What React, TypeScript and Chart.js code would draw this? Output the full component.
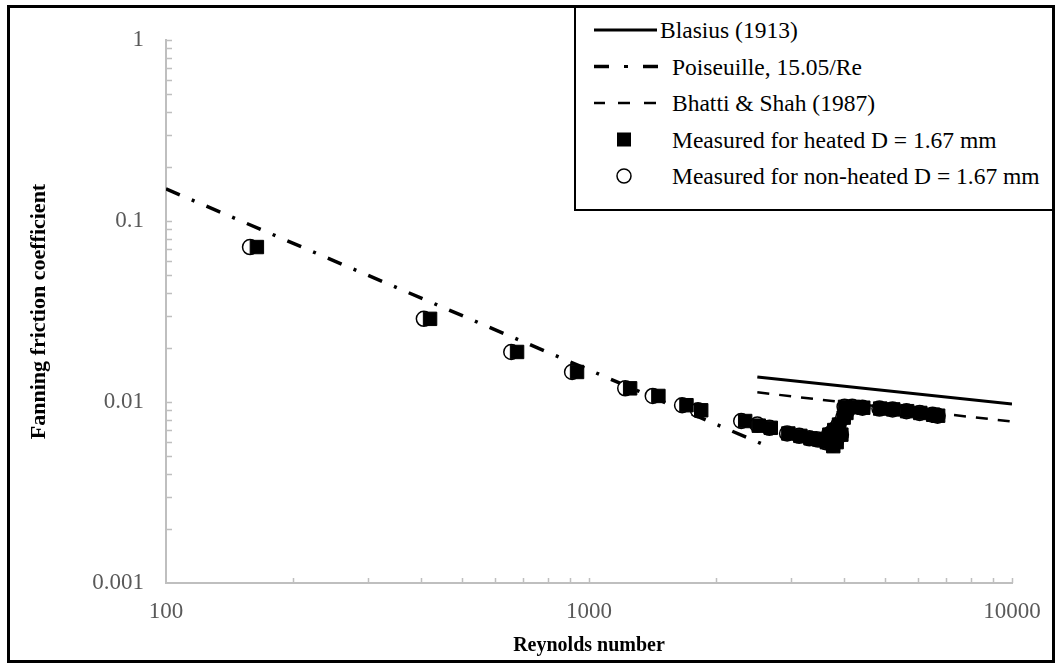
import React, { useEffect, useRef } from "react";
import { Chart, registerables } from "chart.js";

Chart.register(...registerables);

// ---- data ----
const heatedRe = [164, 421, 676, 937, 1251, 1459, 1700, 1842, 2340, 2520, 2690, 2960, 3160, 3340, 3500, 3650, 3700, 3780, 3800, 3850, 3900, 3950, 4000, 4030, 4060, 4210, 4450, 4880, 5240, 5650, 6070, 6510, 6690];
const heatedF = [0.0718, 0.0288, 0.0189, 0.01465, 0.0119, 0.0108, 0.0096, 0.009, 0.00785, 0.0074, 0.0072, 0.0067, 0.0065, 0.0063, 0.0062, 0.006, 0.0066, 0.0057, 0.007, 0.006, 0.0075, 0.0066, 0.0082, 0.0094, 0.0087, 0.0094, 0.0093, 0.0092, 0.0091, 0.0089, 0.0087, 0.0085, 0.0084];

const nonHeatedRe = [158, 407, 655, 912, 1218, 1415, 1660, 1810, 2290, 2500, 2670, 2940, 3140, 3320, 3480, 3630, 3690, 3760, 3790, 3830, 3890, 3940, 3990, 4020, 4050, 4190, 4430, 4860, 5220, 5630, 6050, 6490, 6670];
const nonHeatedF = [0.0718, 0.0288, 0.0189, 0.01465, 0.0119, 0.0108, 0.0096, 0.009, 0.00785, 0.0075, 0.0072, 0.0067, 0.0065, 0.0063, 0.0062, 0.006, 0.0066, 0.0058, 0.007, 0.006, 0.0075, 0.0066, 0.0082, 0.0094, 0.0087, 0.0094, 0.0093, 0.0092, 0.0091, 0.0089, 0.0087, 0.0085, 0.0084];

const blasiusRe = [2500, 10000];
const blasiusF = [0.01374, 0.00975];

const poiseuilleRe = [100, 2700];
const poiseuilleF = [0.1505, 0.00557];

const bhattiRe = [2500, 4000, 6000, 10000];
const bhattiF = [0.01131, 0.00995, 0.00891, 0.0078];

const xTickValues = [100, 1000, 10000];
const yTickValues = [0.001, 0.01, 0.1, 1];

const xTitle = "Reynolds number";
const yTitle = "Fanning friction coefficient";

const legendLabels = [
  "Blasius (1913)",
  "Poiseuille, 15.05/Re",
  "Bhatti & Shah (1987)",
  "Measured for heated D = 1.67 mm",
  "Measured for non-heated D = 1.67 mm",
];

const FONT = "'Liberation Serif', 'Times New Roman', serif";
const AXIS_GRAY = "#bfbfbf";
const TICK_GRAY = "#595959";

const toPoints = (xs: number[], ys: number[]) => xs.map((x, i) => ({ x, y: ys[i] }));

const minorTicksPlugin = {
  id: "minorTicks",
  afterDraw(chart: any) {
    const { ctx, chartArea, scales } = chart;
    const x = scales.x;
    const y = scales.y;
    ctx.save();
    ctx.strokeStyle = AXIS_GRAY;
    ctx.lineWidth = 1.5;
    ctx.beginPath();
    for (const d of [100, 1000]) {
      for (let m = 2; m <= 10; m++) {
        const px = Math.round(x.getPixelForValue(d * m)) + 0.5;
        ctx.moveTo(px, chartArea.bottom);
        ctx.lineTo(px, chartArea.bottom - 5);
      }
    }
    for (const d of [0.001, 0.01, 0.1]) {
      for (let m = 2; m <= 10; m++) {
        const py = Math.round(y.getPixelForValue(d * m)) + 0.5;
        ctx.moveTo(chartArea.left, py);
        ctx.lineTo(chartArea.left + 6, py);
      }
    }
    ctx.stroke();
    ctx.restore();
  },
};

function ChartCanvas() {
  const ref = useRef<HTMLCanvasElement | null>(null);
  useEffect(() => {
    if (!ref.current) return;
    const chart = new Chart(ref.current, {
      type: "scatter",
      data: {
        datasets: [
          {
            label: legendLabels[3],
            data: toPoints(heatedRe, heatedF),
            pointStyle: "rect",
            pointRadius: 9.5,
            backgroundColor: "#000",
            borderColor: "#000",
            borderWidth: 1,
            showLine: false,
            order: 0,
          },
          {
            label: legendLabels[4],
            data: toPoints(nonHeatedRe, nonHeatedF),
            pointStyle: "circle",
            pointRadius: 7.5,
            backgroundColor: "#fff",
            borderColor: "#000",
            borderWidth: 1.5,
            showLine: false,
            order: 1,
          },
          {
            label: legendLabels[0],
            data: toPoints(blasiusRe, blasiusF),
            showLine: true,
            pointRadius: 0,
            borderColor: "#000",
            borderWidth: 3,
            order: 2,
          },
          {
            label: legendLabels[1],
            data: toPoints(poiseuilleRe, poiseuilleF),
            showLine: true,
            pointRadius: 0,
            borderColor: "#000",
            borderWidth: 3.5,
            borderDash: [15, 13, 3, 13],
            order: 2,
          },
          {
            label: legendLabels[2],
            data: toPoints(bhattiRe, bhattiF),
            showLine: true,
            pointRadius: 0,
            borderColor: "#000",
            borderWidth: 2.5,
            borderDash: [12, 10],
            order: 2,
          },
        ],
      },
      options: {
        animation: false,
        responsive: false,
        maintainAspectRatio: false,
        layout: { padding: { left: 20, right: 46, top: 40, bottom: 4 } },
        plugins: { legend: { display: false }, tooltip: { enabled: false } },
        scales: {
          x: {
            type: "logarithmic",
            min: 100,
            max: 10000,
            afterBuildTicks: (s: any) => {
              s.ticks = xTickValues.map((v) => ({ value: v }));
            },
            afterFit: (s: any) => {
              s.height = 79;
            },
            ticks: {
              color: TICK_GRAY,
              font: { family: FONT, size: 23 },
              padding: 15,
              autoSkip: false,
              maxRotation: 0,
              callback: (v: any) => String(v),
            },
            grid: { display: false, drawTicks: false },
            border: { color: AXIS_GRAY, width: 2 },
            title: {
              display: true,
              text: xTitle,
              color: "#000",
              font: { family: FONT, size: 20, weight: "bold" },
              padding: { top: 0, bottom: 4 },
            },
          },
          y: {
            type: "logarithmic",
            min: 0.001,
            max: 1,
            afterBuildTicks: (s: any) => {
              s.ticks = yTickValues.map((v) => ({ value: v }));
            },
            afterFit: (s: any) => {
              s.width = 146;
            },
            ticks: {
              color: TICK_GRAY,
              font: { family: FONT, size: 23 },
              padding: 22,
              autoSkip: false,
              callback: (v: any) => String(v),
            },
            grid: { display: false, drawTicks: false },
            border: { color: AXIS_GRAY, width: 2 },
            title: {
              display: true,
              text: yTitle,
              color: "#000",
              font: { family: FONT, size: 22, weight: "bold" },
              padding: { top: 6, bottom: 0 },
            },
          },
        },
      },
      plugins: [minorTicksPlugin],
    });
    return () => chart.destroy();
  }, []);
  return (
    <canvas
      ref={ref}
      width={1058}
      height={666}
      style={{ position: "absolute", left: 0, top: 0, width: 1058, height: 666 }}
    />
  );
}

function LegendSample({ kind }: { kind: number }) {
  const common = { stroke: "#000", fill: "none" };
  if (kind === 0) return <line x1={594} x2={657} y1={0} y2={0} strokeWidth={3} {...common} />;
  if (kind === 1)
    return (
      <g {...common}>
        <line x1={594} x2={609} y1={0} y2={0} strokeWidth={3.5} />
        <line x1={624} x2={628} y1={0} y2={0} strokeWidth={3} />
        <line x1={643} x2={658} y1={0} y2={0} strokeWidth={3.5} />
      </g>
    );
  if (kind === 2)
    return (
      <g {...common}>
        <line x1={594} x2={605} y1={0} y2={0} strokeWidth={2.5} />
        <line x1={618} x2={630} y1={0} y2={0} strokeWidth={2.5} />
        <line x1={644} x2={656} y1={0} y2={0} strokeWidth={2.5} />
      </g>
    );
  if (kind === 3) return <rect x={624 - 7} y={-7} width={14} height={14} fill="#000" />;
  return <circle cx={624} cy={0} r={7} fill="#fff" stroke="#000" strokeWidth={1.5} />;
}

const legendRowY = [30, 66.5, 103, 139.5, 176];

export default function App() {
  return (
    <div style={{ position: "absolute", left: 0, top: 0, width: 1058, height: 666, background: "#fff", overflow: "hidden" }}>
      <ChartCanvas />
      <div
        style={{
          position: "absolute",
          left: 574,
          top: 5,
          width: 1055 - 574,
          height: 211 - 5,
          boxSizing: "border-box",
          border: "2px solid #000",
          background: "#fff",
        }}
      />
      <svg
        width={1058}
        height={666}
        style={{ position: "absolute", left: 0, top: 0, pointerEvents: "none" }}
      >
        {legendRowY.map((y, i) => (
          <g key={i} transform={`translate(0, ${y})`}>
            <LegendSample kind={i} />
          </g>
        ))}
      </svg>
      {legendLabels.map((t, i) => (
        <div
          key={t}
          style={{
            position: "absolute",
            left: i === 0 ? 660 : 672,
            top: legendRowY[i] - 15,
            height: 30,
            lineHeight: "30px",
            fontFamily: FONT,
            fontSize: 23.5,
            color: "#000",
            whiteSpace: "nowrap",
          }}
        >
          {t}
        </div>
      ))}
      <div
        style={{
          position: "absolute",
          left: 7,
          top: 5,
          width: 1055 - 7,
          height: 663 - 5,
          boxSizing: "border-box",
          border: "3px solid #000",
          pointerEvents: "none",
        }}
      />
    </div>
  );
}
